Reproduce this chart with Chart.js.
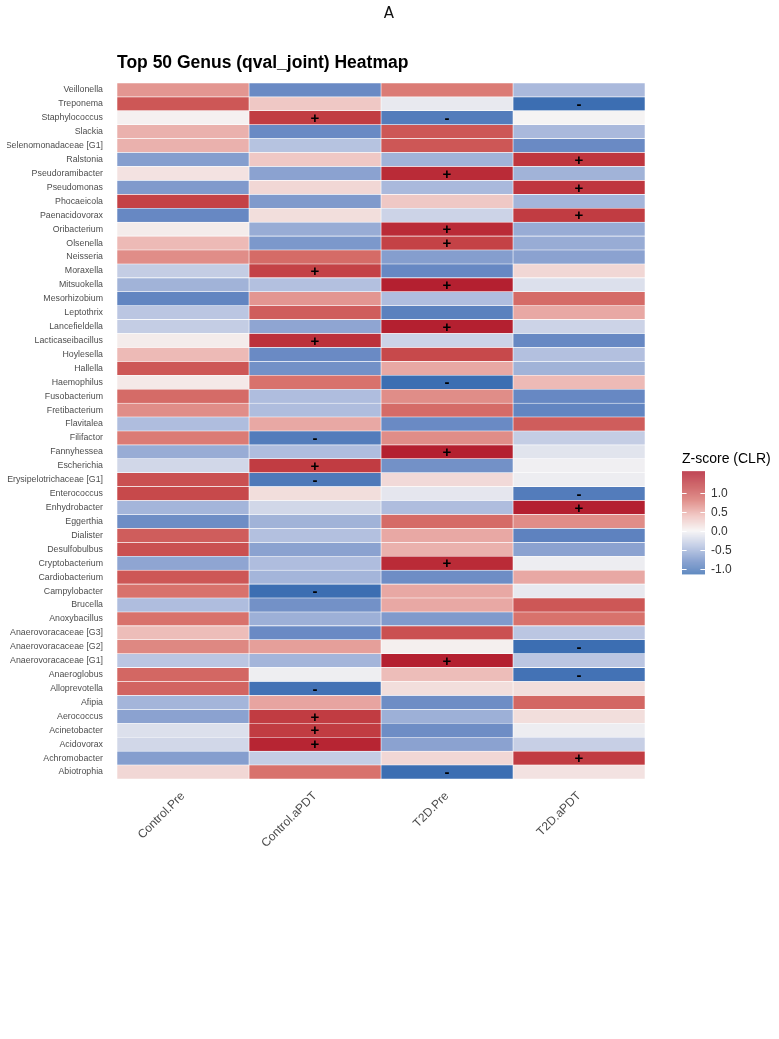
<!DOCTYPE html>
<html>
<head>
<meta charset="utf-8">
<script src="https://cdn.jsdelivr.net/npm/chart.js@4.4.0/dist/chart.umd.min.js"></script>
<style>
  html, body { margin: 0; padding: 0; background: #fff; }
  canvas { display: block; }
</style>
</head>
<body>
<canvas id="heatmap" width="779" height="1039"></canvas>
<script>
// rows, top to bottom
const genera = [
  'Veillonella', 'Treponema', 'Staphylococcus', 'Slackia', 'Selenomonadaceae [G1]',
  'Ralstonia', 'Pseudoramibacter', 'Pseudomonas', 'Phocaeicola', 'Paenacidovorax',
  'Oribacterium', 'Olsenella', 'Neisseria', 'Moraxella', 'Mitsuokella',
  'Mesorhizobium', 'Leptothrix', 'Lancefieldella', 'Lacticaseibacillus', 'Hoylesella',
  'Hallella', 'Haemophilus', 'Fusobacterium', 'Fretibacterium', 'Flavitalea',
  'Filifactor', 'Fannyhessea', 'Escherichia', 'Erysipelotrichaceae [G1]', 'Enterococcus',
  'Enhydrobacter', 'Eggerthia', 'Dialister', 'Desulfobulbus', 'Cryptobacterium',
  'Cardiobacterium', 'Campylobacter', 'Brucella', 'Anoxybacillus', 'Anaerovoracaceae [G3]',
  'Anaerovoracaceae [G2]', 'Anaerovoracaceae [G1]', 'Anaeroglobus', 'Alloprevotella', 'Afipia',
  'Aerococcus', 'Acinetobacter', 'Acidovorax', 'Achromobacter', 'Abiotrophia'
];

const groups = ['Control.Pre', 'Control.aPDT', 'T2D.Pre', 'T2D.aPDT'];

// z-scores (CLR), one value per genus
const controlPre = [0.6, 1.0, 0.02, 0.45, 0.45, -0.65, 0.12, -0.68, 1.15, -0.82,
  0.05, 0.4, 0.65, -0.3, -0.5, -0.85, -0.35, -0.3, 0.05, 0.4,
  1.0, 0.07, 0.85, 0.65, -0.42, 0.75, -0.55, -0.22, 1.05, 1.1,
  -0.48, -0.78, 0.95, 1.05, -0.6, 1.0, 0.8, -0.42, 0.8, 0.38,
  0.68, -0.35, 0.88, 0.9, -0.48, -0.62, -0.15, -0.22, -0.65, 0.2];
const controlAPDT = [-0.8, 0.3, 1.2, -0.8, -0.38, 0.3, -0.62, 0.2, -0.68, 0.15,
  -0.55, -0.7, 0.85, 1.15, -0.4, 0.6, 0.95, -0.6, 1.3, -0.8,
  -0.75, 0.8, -0.42, -0.42, 0.5, -0.95, -0.42, 1.2, -0.98, 0.15,
  -0.22, -0.5, -0.4, -0.62, -0.42, -0.48, -1.1, -0.75, -0.52, -0.8,
  0.55, -0.48, -0.04, -1.05, 0.52, 1.2, 1.2, 1.4, -0.3, 0.8];
const t2dPre = [0.75, -0.08, -0.95, 1.0, 1.0, -0.5, 1.35, -0.45, 0.3, -0.25,
  1.35, 1.15, -0.65, -0.82, 1.45, -0.42, -0.9, 1.45, -0.25, 1.1,
  0.5, -1.1, 0.65, 0.85, -0.8, 0.65, 1.45, -0.75, 0.18, -0.1,
  -0.42, 0.85, 0.5, 0.45, 1.35, -0.78, 0.5, 0.5, -0.68, 1.05,
  0.03, 1.45, 0.38, 0.15, -0.78, -0.52, -0.78, -0.62, 0.2, -1.1];
const t2dAPDT = [-0.45, -1.1, 0.0, -0.45, -0.8, 1.25, -0.5, 1.25, -0.48, 1.2,
  -0.55, -0.55, -0.62, 0.2, -0.15, 0.85, 0.5, -0.25, -0.82, -0.4,
  -0.5, 0.4, -0.82, -0.85, 0.95, -0.3, -0.12, -0.03, -0.05, -0.95,
  1.45, 0.65, -0.88, -0.62, -0.05, 0.5, -0.08, 1.0, 0.8, -0.35,
  -1.1, -0.35, -1.05, 0.15, 0.88, 0.15, -0.05, -0.28, 1.2, 0.12];

// significant genera (+ up / - down)
const plusControlAPDT = ['Staphylococcus', 'Moraxella', 'Lacticaseibacillus', 'Escherichia', 'Aerococcus', 'Acinetobacter', 'Acidovorax'];
const minusControlAPDT = ['Filifactor', 'Erysipelotrichaceae [G1]', 'Campylobacter', 'Alloprevotella'];
const plusT2dPre = ['Pseudoramibacter', 'Oribacterium', 'Olsenella', 'Mitsuokella', 'Lancefieldella', 'Fannyhessea', 'Cryptobacterium', 'Anaerovoracaceae [G1]'];
const minusT2dPre = ['Staphylococcus', 'Haemophilus', 'Abiotrophia'];
const plusT2dAPDT = ['Ralstonia', 'Pseudomonas', 'Paenacidovorax', 'Enhydrobacter', 'Achromobacter'];
const minusT2dAPDT = ['Treponema', 'Enterococcus', 'Anaerovoracaceae [G2]', 'Anaeroglobus'];

const legendTicks = [1.0, 0.5, 0.0, -0.5, -1.0];

// colour ramp blue - white - red
var stops = [
  [-1.15, [52, 105, 175]],
  [-0.8, [106, 138, 196]],
  [-0.4, [179, 192, 223]],
  [0, [245, 243, 243]],
  [0.4, [237, 186, 182]],
  [0.8, [216, 114, 108]],
  [1.15, [196, 66, 70]],
  [1.55, [175, 20, 40]]
];
function zColor(v){
  if (v <= stops[0][0]) return 'rgb(' + stops[0][1].join(',') + ')';
  for (var i = 1; i < stops.length; i++){
    if (v <= stops[i][0]){
      var a = stops[i-1], b = stops[i];
      var t = (v - a[0]) / (b[0] - a[0]);
      var c = a[1].map((x, k) => Math.round(x + (b[1][k] - x) * t));
      return 'rgb(' + c.join(',') + ')';
    }
  }
  return 'rgb(' + stops[stops.length-1][1].join(',') + ')';
}

var columns = [controlPre, controlAPDT, t2dPre, t2dAPDT];
var marks = [
  [[], []],
  [plusControlAPDT, minusControlAPDT],
  [plusT2dPre, minusT2dPre],
  [plusT2dAPDT, minusT2dAPDT]
];

var datasets = groups.map((g, i) => ({
  label: g,
  data: genera.map(() => 1),   // each cell is one unit wide
  backgroundColor: columns[i].map(zColor),
  borderColor: '#ffffff',
  borderWidth: 0.6,
  borderSkipped: false,
  categoryPercentage: 1,
  barPercentage: 1
}));

// + / - on significant cells
var marksPlugin = {
  id: 'marks',
  afterDatasetsDraw(chart){
    var ctx = chart.ctx;
    ctx.save();
    ctx.fillStyle = '#000';
    ctx.textAlign = 'center';
    ctx.textBaseline = 'middle';
    ctx.font = 'bold 15px "Liberation Sans", Arial, sans-serif';
    marks.forEach((m, i) => {
      var meta = chart.getDatasetMeta(i);
      genera.forEach((name, j) => {
        var sign = m[0].includes(name) ? '+' : (m[1].includes(name) ? '-' : '');
        if (!sign) return;
        var p = meta.data[j].getCenterPoint();
        ctx.fillText(sign, p.x, p.y + 1);
      });
    });
    ctx.restore();
  }
};

// title, panel letter and colour bar
var decorPlugin = {
  id: 'decor',
  afterDraw(chart){
    var ctx = chart.ctx, area = chart.chartArea;
    ctx.save();
    ctx.fillStyle = '#111';
    ctx.textAlign = 'center';
    ctx.textBaseline = 'alphabetic';
    ctx.font = '15px "DejaVu Sans", sans-serif';
    ctx.fillText('A', 389, 18);

    ctx.textAlign = 'left';
    ctx.fillStyle = '#000';
    ctx.font = 'bold 17.5px "Liberation Sans", Arial, sans-serif';
    ctx.fillText('Top 50 Genus (qval_joint) Heatmap', area.left, 68);

    // legend
    var lx = area.right + 37, lw = 23;
    var zero = 531, perUnit = 38;
    var vMax = 1.57, vMin = -1.12;
    var top = zero - vMax * perUnit, bottom = zero - vMin * perUnit;
    ctx.fillStyle = '#000';
    ctx.font = '14px "Liberation Sans", Arial, sans-serif';
    ctx.fillText('Z-score (CLR)', lx, 463);
    for (var y = top; y < bottom; y++){
      var v = (zero - (y + 0.5)) / perUnit;
      ctx.fillStyle = zColor(v);
      ctx.fillRect(lx, y, lw, 1);
    }
    ctx.strokeStyle = '#fff';
    ctx.lineWidth = 1;
    ctx.font = '12px "Liberation Sans", Arial, sans-serif';
    ctx.textBaseline = 'middle';
    legendTicks.forEach(t => {
      var ty = Math.round(zero - t * perUnit) + 0.5;
      ctx.beginPath();
      ctx.moveTo(lx, ty); ctx.lineTo(lx + 4.6, ty);
      ctx.moveTo(lx + lw - 4.6, ty); ctx.lineTo(lx + lw, ty);
      ctx.stroke();
      ctx.fillStyle = '#333';
      ctx.fillText(t.toFixed(1), lx + lw + 6, ty);
    });
    ctx.restore();
  }
};

new Chart(document.getElementById('heatmap'), {
  type: 'bar',
  data: { labels: genera, datasets: datasets },
  options: {
    indexAxis: 'y',
    responsive: false,
    animation: false,
    devicePixelRatio: 1,
    layout: { padding: { left: 7, right: 134, top: 83, bottom: 160 } },
    plugins: {
      legend: { display: false },
      tooltip: { enabled: false },
      title: { display: false }
    },
    scales: {
      x: {
        type: 'linear',
        stacked: true,
        min: 0,
        max: groups.length,
        grid: { display: false },
        border: { display: false },
        afterBuildTicks: s => { s.ticks = groups.map((g, i) => ({ value: i + 0.5 })); },
        afterFit: s => { s.height = 100; },
        ticks: {
          minRotation: 45,
          maxRotation: 45,
          autoSkip: false,
          padding: 2,
          color: '#4d4d4d',
          font: { family: '"Liberation Sans", Arial, sans-serif', size: 12 },
          callback: v => groups[Math.floor(v)]
        }
      },
      y: {
        type: 'category',
        stacked: true,
        grid: { display: false },
        border: { display: false },
        afterFit: s => { s.width = 110; },
        ticks: {
          autoSkip: false,
          padding: 6,
          color: '#4d4d4d',
          font: { family: '"Liberation Sans", Arial, sans-serif', size: 8.8 }
        }
      }
    }
  },
  plugins: [marksPlugin, decorPlugin]
});
</script>
</body>
</html>
